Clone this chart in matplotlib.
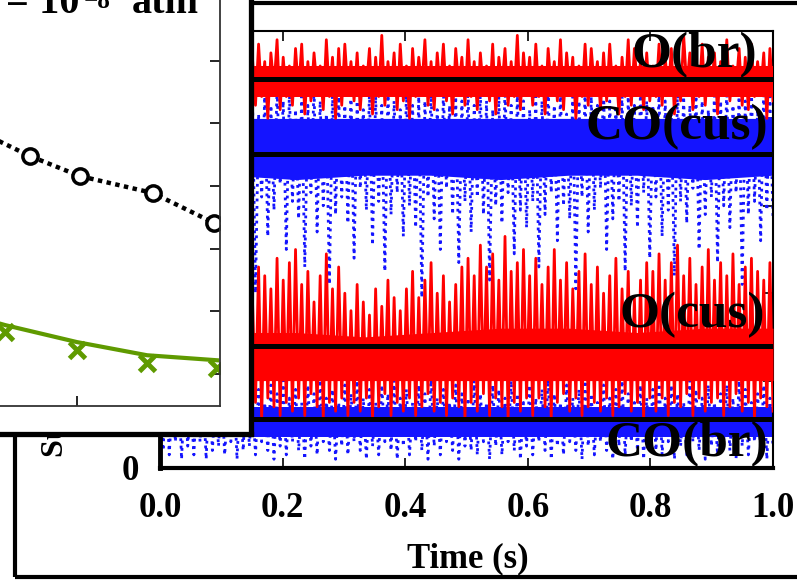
import numpy as np
import matplotlib
matplotlib.use('Agg')
import matplotlib.pyplot as plt
from matplotlib.patches import Rectangle

plt.rcParams['font.family'] = ['Liberation Serif', 'DejaVu Serif']
plt.rcParams['font.weight'] = 'bold'

# ---- main panel data: coverage (%) vs time, alternating high / low samples ----
obr = [95,84,97,86,93,82,96,87,94,81,98,85,92,83,96,80,94,86,97,84,
       93,82,95,87,99,84,92,81,96,86,94,83,97,85,93,80,95,87,98,82,
       94,85,92,83,96,86,97,81,93,84,95,87,92,82,98,85,94,80,96,83,
       97,86,93,84,95,82,92,87,96,81,94,85,99,83,93,86,95,82,97,84,
       92,80,96,85,94,87,98,83,93,82,95,86,97,84,92,81,96,87,94,83,
       98,85,93,82,95,86,92,84,97,81,94,87,96,83,93,85,99,82,95,86,
       94,83,97,85,92,81,96,87,93,84,98,82,95,86,94,80,92,85,97,83,
       96,87,93,82,95,84,97,86,92,81,94,85,98,83,96,87,93,82,95,84,
       92,85,97,83,94,86,96,81,93,84,99,87,95,82,92,85,97,83,94,86,
       95,81,93,86,98,84,92,87,96,83,94,82,97,85,93,86,95,80,96,84]
cocus = [84,58,86,62,82,49,87,60,83,55,85,63,81,44,86,59,84,52,88,61,
         82,57,85,64,83,47,87,60,84,55,86,40,81,62,85,53,83,59,87,65,
         84,50,86,61,82,57,85,46,83,63,87,54,84,60,81,42,86,58,85,62,
         83,56,87,48,84,64,82,59,86,51,85,61,83,45,87,58,84,63,82,53,
         86,60,83,55,85,39,84,62,87,57,82,50,86,64,83,58,85,47,84,61,
         87,54,83,62,86,58,84,43,82,60,85,56,87,63,83,49,86,59,84,55,
         82,61,85,46,84,58,87,63,83,52,86,60,81,57,85,41,84,62,86,54,
         85,59,83,64,87,50,84,57,82,61,86,45,85,60,83,55,87,63,84,48,
         83,62,86,53,84,59,82,44,87,61,85,56,83,64,86,50,84,58,82,62,
         86,47,84,60,87,55,83,63,85,42,84,58,86,61,82,52,87,59,85,57]
ocus = [44,14,48,17,41,12,50,15,46,13,43,16,38,11,47,15,42,18,49,13,
        45,16,40,12,47,14,52,17,43,13,39,15,46,11,44,16,41,14,48,12,
        43,15,47,13,50,16,42,12,45,17,38,14,44,11,49,15,41,13,46,16,
        40,12,36,15,42,13,38,16,35,11,41,14,37,17,43,12,39,15,36,13,
        41,16,45,12,39,14,43,17,47,13,40,15,44,12,38,16,42,14,46,11,
        48,15,44,13,51,17,46,12,49,16,43,14,53,11,45,15,47,13,50,16,
        44,12,48,16,42,14,46,11,50,15,43,17,47,13,41,16,45,12,49,14,
        42,15,46,13,40,16,44,12,48,14,41,17,45,13,39,15,43,11,47,16,
        45,13,49,16,43,12,47,15,51,14,44,17,48,12,42,16,46,13,50,15,
        43,16,47,12,44,14,49,17,42,13,46,15,48,11,45,16,43,14,47,13]
cobr = [17,4,19,3,16,6,20,2,18,5,15,3,19,6,17,2,21,4,16,5,
        18,3,15,6,19,2,17,4,20,5,16,3,18,6,15,4,19,2,17,5,
        20,3,16,6,18,4,15,2,19,5,17,3,21,6,16,4,18,2,15,5,
        19,3,17,6,20,4,16,2,18,5,15,3,19,6,17,4,20,2,16,5,
        18,3,15,6,19,4,17,2,21,5,16,3,18,6,15,4,19,2,17,5,
        16,4,20,3,17,6,15,2,19,5,18,3,16,6,20,4,17,2,15,5,
        19,3,16,6,18,4,21,2,17,5,15,3,19,6,16,4,18,2,20,5,
        17,3,15,6,19,4,16,2,18,5,20,3,17,6,15,4,19,2,16,5,
        18,4,21,3,16,6,19,2,17,5,15,3,20,6,18,4,16,2,19,5,
        15,3,17,6,19,4,16,2,20,5,18,3,15,6,17,4,19,2,16,5]

# dense cores of each trace (low / high edge, %)
obr_lo = [85,85,85,85,85,85,85,85,85,85]
obr_hi = [92,92,92,92,92,92,92,92,92,92]
cocus_lo = [67,67,66,67,67,66,67,67,66,67]
cocus_hi = [80,80,80,80,80,80,80,80,80,80]
ocus_lo = [20,20,20,20,20,20,20,20,20,20]
ocus_hi = [32,31,31,30,31,32,32,31,32,32]
cobr_lo = [7,7,7,7,7,7,7,7,7,7]
cobr_hi = [14,14,14,14,14,14,14,14,14,14]

mean_levels = [89.0, 71.9, 27.9, 11.2]
species = ['O(br)', 'CO(cus)', 'O(cus)', 'CO(br)']
label_x = [0.974, 0.992, 0.987, 0.992]
label_y = [91.8, 75.3, 32.3, 2.7]

# ---- inset data ----
circ_x = [1.20, 1.67, 2.02, 2.53, 2.96]
circ_y = [0.500, 0.448, 0.416, 0.389, 0.341]
green_x = [1.00, 1.50, 2.00, 2.49, 2.98]
green_mark = [0.200, 0.167, 0.138, 0.118, 0.110]
green_fit = [0.210, 0.178, 0.151, 0.130, 0.122]

W, H = 797, 580
fig = plt.figure(figsize=(W/100, H/100), dpi=100)

def fx(px):
    return px / W

def fy(py):
    return (H - py) / H

# outer frame
frame = Rectangle((fx(15), fy(577)), fx(800) - fx(15), fy(3) - fy(577),
                  transform=fig.transFigure, fill=False, lw=3, ec='black', zorder=1)
fig.patches.append(frame)

ax = fig.add_axes([fx(160), fy(468), fx(773) - fx(160), fy(31) - fy(468)])
ax.set_zorder(0)

t_trace = np.linspace(0, 1, len(obr))
t_core = np.linspace(0, 1, len(obr_lo))
blue = '#1414ff'
red = '#ff0000'

ax.fill_between(t_core, cocus_lo, cocus_hi, color=blue, lw=0, zorder=1)
ax.fill_between(t_core, cobr_lo, cobr_hi, color=blue, lw=0, zorder=1)
ax.plot(t_trace, cocus, color=blue, lw=2.0, ls=':', zorder=2)
ax.plot(t_trace, cobr, color=blue, lw=2.0, ls=':', zorder=2)
ax.fill_between(t_core, obr_lo, obr_hi, color=red, lw=0, zorder=3)
ax.fill_between(t_core, ocus_lo, ocus_hi, color=red, lw=0, zorder=3)
ax.plot(t_trace, obr, color=red, lw=2.0, zorder=4)
ax.plot(t_trace, ocus, color=red, lw=2.0, zorder=4)

ax.hlines(mean_levels, 0, 1, colors='black', lw=3.6, zorder=5)

for name, lx, ly in zip(species, label_x, label_y):
    ax.text(lx, ly, name, fontsize=37, fontweight='bold', ha='right',
            va='baseline', zorder=6)

ax.set_xlim(0, 1)
ax.set_ylim(0, 100)
ax.set_xticks([0, 0.2, 0.4, 0.6, 0.8, 1.0])
ax.set_xticklabels(['0.0', '0.2', '0.4', '0.6', '0.8', '1.0'])
ax.set_yticks([0, 20, 40, 60, 80, 100])
ax.set_yticklabels(['0', '20', '40', '60', '80', '100'])
ax.tick_params(direction='in', length=7, width=1.2, labelsize=25,
               top=True, right=True)
ax.tick_params(axis='x', pad=17)
ax.tick_params(axis='y', pad=15)
for tl in ax.get_xticklabels() + ax.get_yticklabels():
    tl.set_fontweight('bold')
ax.spines['bottom'].set_linewidth(3)
ax.spines['left'].set_linewidth(3.5)
ax.spines['top'].set_linewidth(1.5)
ax.spines['right'].set_linewidth(1.5)
ax.set_xlabel('Time (s)', fontsize=25, fontweight='bold')
ax.xaxis.set_label_coords(0.502, -0.170)
ax.xaxis.label.set_va('top')
ax.text(-(160 - 55) / 613, (468 - 457) / 437, 'Surface coverage',
        transform=ax.transAxes, rotation=90, fontsize=23,
        fontweight='bold', ha='center', va='bottom')

# inset panel (white box with heavy border)
panel = fig.add_axes([fx(-20), fy(433.5), fx(250.5) - fx(-20), fy(-20) - fy(433.5)])
panel.set_zorder(2)
panel.set_facecolor('white')
panel.set_xticks([])
panel.set_yticks([])
for s in panel.spines.values():
    s.set_linewidth(3.8)

axi = fig.add_axes([fx(-200), fy(406), fx(220) - fx(-200), fy(-10) - fy(406)])
axi.set_zorder(3)
axi.patch.set_alpha(0)
axi.plot(circ_x, circ_y, color='black', lw=3.2, ls=(0, (1, 1)), marker='o',
         ms=11, mfc='white', mec='black', mew=2.5)
axi.plot(green_x, green_fit, color='#5f9a00', lw=3)
axi.plot(green_x, green_mark, ls='none', marker='x', ms=11, mew=3.5, color='#5f9a00')
axi.set_xlim(0.063, 3.0)
axi.set_ylim(0.049, 0.713)
axi.set_xticks([1, 2])
axi.set_yticks([0.1, 0.2, 0.3, 0.4, 0.5, 0.6, 0.7])
axi.yaxis.tick_right()
axi.tick_params(direction='in', length=7, width=1.2, labelbottom=False,
                labelright=False, labelleft=False)
for s in axi.spines.values():
    s.set_linewidth(1.3)
    s.set_color('#333333')

# pressure title, cut by the top edge as in the source
fig.text(fx(6), fy(13), '= 10', fontsize=29, fontweight='bold',
         ha='left', va='baseline', zorder=5)
fig.text(fx(84), fy(8), '\u22128', fontsize=18, fontweight='bold',
         ha='left', va='baseline', zorder=5)
fig.text(fx(132), fy(13), 'atm', fontsize=29, fontweight='bold',
         ha='left', va='baseline', zorder=5)

fig.savefig('out.png', dpi=100)
